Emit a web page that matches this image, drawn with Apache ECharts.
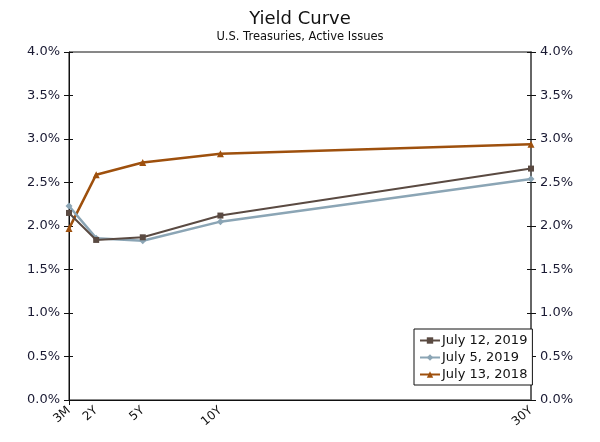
<!DOCTYPE html>
<html><head><meta charset="utf-8">
<script src="https://cdn.jsdelivr.net/npm/echarts@6/dist/echarts.min.js"></script>
<style>html,body{margin:0;padding:0;background:#fff}#c{width:600px;height:442px}</style>
</head><body><div id="c"></div>
<script>
const maturities = [0.25, 2, 5, 10, 30];
const tickLabels = ['3M', '2Y', '5Y', '10Y', '30Y'];
const july12_2019 = [2.15, 1.84, 1.87, 2.12, 2.66];
const july5_2019 = [2.23, 1.86, 1.83, 2.05, 2.54];
const july13_2018 = [1.97, 2.59, 2.73, 2.83, 2.94];
const seriesNames = ['July 12, 2019', 'July 5, 2019', 'July 13, 2018'];

const font = 'DejaVu Sans, Verdana, sans-serif';
const pair = (ys) => maturities.map((x, i) => [x, ys[i]]);
const lbl = {};
maturities.forEach((m, i) => lbl[m] = tickLabels[i]);

const yBase = {
  type: 'value', min: 0, max: 4, interval: 0.5,
  splitLine: { show: false },
};
const chart = echarts.init(document.getElementById('c'));
chart.setOption({
  animation: false,
  textStyle: { fontFamily: font },
  title: {
    text: 'Yield Curve', subtext: 'U.S. Treasuries, Active Issues',
    left: 'center', top: 5, itemGap: 3,
    textStyle: { fontFamily: font, fontSize: 18, fontWeight: 'normal', color: '#111' },
    subtextStyle: { fontFamily: font, fontSize: 11.5, color: '#111' }
  },
  grid: { left: 69, right: 69, top: 52, bottom: 42, show: true, borderColor: '#111', borderWidth: 1, backgroundColor: 'transparent' },
  legend: {
    orient: 'vertical', left: 414, top: 329, itemGap: 4, padding: [5, 5, 4, 5],
    borderColor: '#111', borderWidth: 1, backgroundColor: '#fff',
    itemWidth: 20, itemHeight: 8,
    textStyle: { fontFamily: font, fontSize: 13, color: '#111', padding: [0, 0, 0, -3] },
    data: seriesNames
  },
  xAxis: {
    type: 'value', min: 0.25, max: 30,
    splitLine: { show: false },
    axisLine: { lineStyle: { color: '#111' } },
    axisTick: { show: true, customValues: [0.25], length: 5, lineStyle: { color: '#111' } },
    axisLabel: {
      customValues: maturities, rotate: 40, color: '#111', fontFamily: font, fontSize: 12,
      formatter: v => lbl[v] || '', margin: 9
    }
  },
  yAxis: [
    Object.assign({}, yBase, {
      position: 'left',
      axisLine: { show: true, lineStyle: { color: '#111' } },
      axisTick: { show: true, length: 5, lineStyle: { color: '#111' } },
      axisLabel: { color: '#1a1a33', fontFamily: font, fontSize: 13, margin: 9, formatter: v => v.toFixed(1) + '%' }
    }),
    Object.assign({}, yBase, {
      position: 'right',
      axisLine: { show: true, lineStyle: { color: '#666', width: 2 } },
      axisTick: { show: true, length: 5, lineStyle: { color: '#111' } },
      axisLabel: { color: '#1a1a33', fontFamily: font, fontSize: 13, margin: 9, formatter: v => v.toFixed(1) + '%' }
    }),
    Object.assign({}, yBase, {
      position: 'left',
      axisLine: { show: false },
      axisTick: { show: true, inside: true, length: 4, lineStyle: { color: '#111' } },
      axisLabel: { show: false }
    }),
    Object.assign({}, yBase, {
      position: 'right',
      axisLine: { show: false },
      axisTick: { show: true, inside: true, length: 4, lineStyle: { color: '#111' } },
      axisLabel: { show: false }
    })
  ],
  series: [
    { name: seriesNames[2], type: 'line', data: pair(july13_2018), color: '#9e500d',
      symbol: 'triangle', symbolSize: 7, lineStyle: { width: 2.5 }, itemStyle: { color: '#9e500d' }, z: 3 },
    { name: seriesNames[1], type: 'line', data: pair(july5_2019), color: '#8ba5b5',
      symbol: 'diamond', symbolSize: 7, lineStyle: { width: 2.5 }, itemStyle: { color: '#8ba5b5' }, z: 4 },
    { name: seriesNames[0], type: 'line', data: pair(july12_2019), color: '#5a4a42',
      symbol: 'rect', symbolSize: 6, lineStyle: { width: 2 }, itemStyle: { color: '#5a4a42' }, z: 5 }
  ]
});
</script></body></html>
